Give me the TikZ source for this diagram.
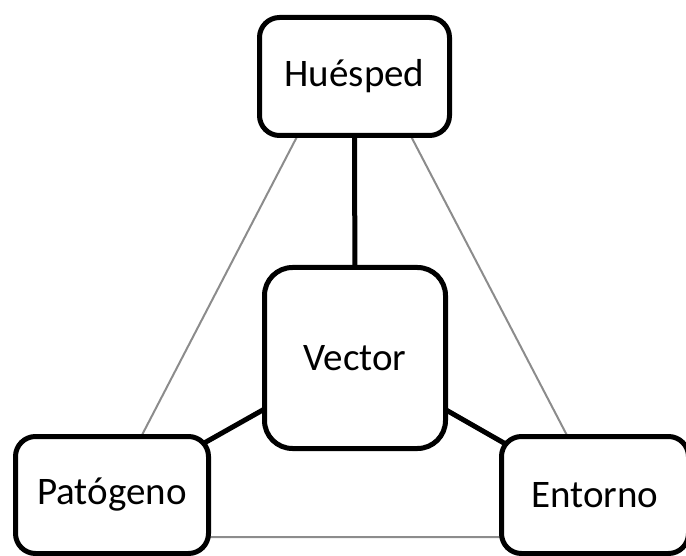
\documentclass[tikz,border=0pt]{standalone}
\usepackage{fontspec}
\setmainfont{Carlito}
\begin{document}
\begin{tikzpicture}[x=1pt,y=-1pt,
  box/.style={draw=black, line width=5pt, fill=white, rounded corners=20pt,
    inner sep=0pt, font=\fontsize{39}{45}\selectfont},
  tie/.style={draw=black, line width=5pt},
  rim/.style={draw=black!45, line width=2pt}]
\useasboundingbox (0,0) rectangle (686,556);
% outer triangle behind the boxes
\coordinate (apex) at (354,27);
\coordinate (bl) at (89,537);
\coordinate (br) at (620,537);
\draw[rim] (apex) -- (bl) -- (br) -- cycle;
% node centres
\coordinate (ch) at (354.5,76.5);
\coordinate (cv) at (355,358);
\coordinate (cp) at (112,495);
\coordinate (ce) at (595,495);
% black links from the vector to the others
\draw[tie] (cv) -- (ch);
\draw[tie] (cv) -- (cp);
\draw[tie] (cv) -- (ce);
% boxes
\node[box, minimum width=190pt, minimum height=118pt] (h) at (ch) {Huésped};
\node[box, rounded corners=28pt, minimum width=181pt, minimum height=181pt] (v) at (cv) {Vector};
\node[box, minimum width=193pt, minimum height=117pt] (p) at (cp) {Patógeno};
\node[box, minimum width=187pt, minimum height=117pt] (e) at (ce) {Entorno};
\end{tikzpicture}
\end{document}
